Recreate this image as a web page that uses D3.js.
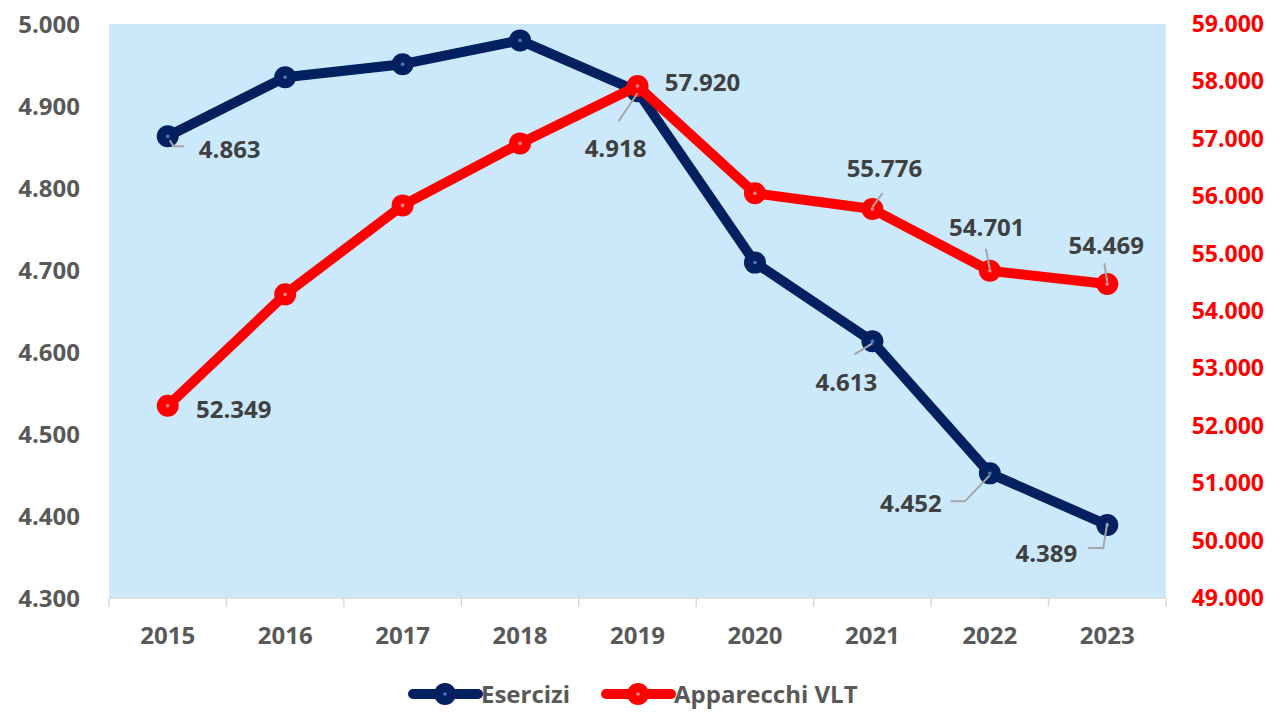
<!DOCTYPE html>
<html>
<head>
<meta charset="utf-8">
<script src="https://cdn.jsdelivr.net/npm/d3@7"></script>
<style>
  body { margin: 0; background: #fff; }
  svg { font-family: "Open Sans", "Noto Sans", sans-serif; font-weight: bold; }
</style>
</head>
<body>
<svg id="chart" width="1267" height="712"></svg>
<script>
// data
const years = ["2015", "2016", "2017", "2018", "2019", "2020", "2021", "2022", "2023"];
const esercizi = [4863, 4935, 4951, 4980, 4918, 4709, 4613, 4452, 4389];
const vlt = [52349, 54290, 55840, 56920, 57920, 56050, 55776, 54701, 54469];
const leftTicks = [4300, 4400, 4500, 4600, 4700, 4800, 4900, 5000];
const rightTicks = [49000, 50000, 51000, 52000, 53000, 54000, 55000, 56000, 57000, 58000, 59000];

// label placement relative to the point, plus leader line
const eserciziLabels = [
    {i: 0, dx: 62, dy: 13, lead: [[2, 4], [6, 10], [16, 10]]},
    {i: 4, dx: -22, dy: 57, lead: [[0, 2], [-19, 30]]},
    {i: 6, dx: -26, dy: 41, lead: [[0, 2], [-18, 13]]},
    {i: 7, dx: -79, dy: 30, lead: [[0, 2], [-25, 28], [-39, 28]]},
    {i: 8, dx: -61, dy: 28, lead: [[0, -2], [-4, 23], [-19, 23]]}
];
const vltLabels = [
    {i: 0, dx: 66, dy: 3, lead: null},
    {i: 4, dx: 65, dy: -4, lead: null},
    {i: 6, dx: 12, dy: -41, lead: [[0, -2], [10, -16]]},
    {i: 7, dx: -3, dy: -44, lead: [[0, -2], [-4, -22]]},
    {i: 8, dx: -1, dy: -39, lead: [[0, -2], [-3, -21]]}
];

const itFmt = v => d3.format(",")(v).replace(/,/g, ".");

const svg = d3.select("#chart");
const margin = {left: 109, right: 101, top: 24, bottom: 114};
const width = 1267 - margin.left - margin.right,
      height = 712 - margin.top - margin.bottom;

const x = d3.scaleBand().domain(years).range([margin.left, margin.left + width]);
const yL = d3.scaleLinear().domain([4300, 5000]).range([margin.top + height, margin.top]);
const yR = d3.scaleLinear().domain([49000, 59000]).range([margin.top + height, margin.top]);
const cx = d => x(d) + x.bandwidth() / 2;

// plot area
svg.append("rect")
    .attr("x", margin.left).attr("y", margin.top)
    .attr("width", width).attr("height", height)
    .attr("fill", "#cce9fc");

// x axis
const xAxis = svg.append("g")
    .attr("transform", "translate(0," + (margin.top + height) + ")");
xAxis.append("line")
    .attr("x1", margin.left).attr("x2", margin.left + width)
    .attr("stroke", "#d9d9d9").attr("stroke-width", 1.5);
xAxis.selectAll(".tk")
    .data(d3.range(years.length + 1))
    .join("line")
    .attr("x1", i => margin.left + i * x.bandwidth())
    .attr("x2", i => margin.left + i * x.bandwidth())
    .attr("y1", 0).attr("y2", 9)
    .attr("stroke", "#d9d9d9").attr("stroke-width", 1.5);
xAxis.selectAll("text")
    .data(years)
    .join("text")
    .attr("x", d => cx(d))
    .attr("y", 46)
    .attr("text-anchor", "middle")
    .attr("fill", "#595959")
    .attr("font-size", 24)
    .text(d => d);

// left axis labels
svg.append("g").selectAll("text")
    .data(leftTicks)
    .join("text")
    .attr("x", 80)
    .attr("y", d => yL(d) + 9)
    .attr("text-anchor", "end")
    .attr("fill", "#595959")
    .attr("font-size", 24)
    .text(d => itFmt(d));

// right axis labels
svg.append("g").selectAll("text")
    .data(rightTicks)
    .join("text")
    .attr("x", 1264)
    .attr("y", d => yR(d) + 8)
    .attr("text-anchor", "end")
    .attr("fill", "#ff0000")
    .attr("font-size", 23)
    .text(d => itFmt(d));

function drawSeries(values, y, color, dot) {
    const g = svg.append("g");
    g.append("path")
        .datum(values)
        .attr("fill", "none")
        .attr("stroke", color)
        .attr("stroke-width", 10)
        .attr("stroke-linejoin", "round")
        .attr("d", d3.line().x((d, i) => cx(years[i])).y(d => y(d)));
    g.selectAll("circle.m")
        .data(values)
        .join("circle")
        .attr("class", "m")
        .attr("cx", (d, i) => cx(years[i]))
        .attr("cy", d => y(d))
        .attr("r", 11)
        .attr("fill", color);
    g.selectAll("circle.c")
        .data(values)
        .join("circle")
        .attr("class", "c")
        .attr("cx", (d, i) => cx(years[i]))
        .attr("cy", d => y(d))
        .attr("r", 1.8)
        .attr("fill", dot);
    return g;
}

function drawLabels(labels, values, y) {
    const g = svg.append("g");
    labels.forEach(l => {
        const px = cx(years[l.i]), py = y(values[l.i]);
        if (l.lead) {
            g.append("path")
                .attr("d", d3.line()(l.lead.map(p => [px + p[0], py + p[1]])))
                .attr("fill", "none")
                .attr("stroke", "#a6a6a6")
                .attr("stroke-width", 2);
        }
        g.append("text")
            .attr("x", px + l.dx)
            .attr("y", py + l.dy + 9)
            .attr("text-anchor", "middle")
            .attr("fill", "#404040")
            .attr("font-size", 24)
            .text(itFmt(values[l.i]));
    });
}

drawSeries(esercizi, yL, "#002060", "#5577bb");
drawSeries(vlt, yR, "#ff0000", "#ff8888");
drawLabels(eserciziLabels, esercizi, yL);
drawLabels(vltLabels, vlt, yR);

// legend
const legend = svg.append("g").attr("transform", "translate(0,694)");
const items = [
    {name: "Esercizi", color: "#002060", dot: "#5577bb", x: 413},
    {name: "Apparecchi VLT", color: "#ff0000", dot: "#ff8888", x: 606}
];
items.forEach(it => {
    legend.append("line")
        .attr("x1", it.x).attr("x2", it.x + 65)
        .attr("stroke", it.color).attr("stroke-width", 10)
        .attr("stroke-linecap", "round");
    legend.append("circle")
        .attr("cx", it.x + 32).attr("r", 11).attr("fill", it.color);
    legend.append("circle")
        .attr("cx", it.x + 32).attr("r", 1.8).attr("fill", it.dot);
    legend.append("text")
        .attr("x", it.x + 68).attr("y", 9)
        .attr("fill", "#595959")
        .attr("font-size", 24)
        .text(it.name);
});
</script>
</body>
</html>
